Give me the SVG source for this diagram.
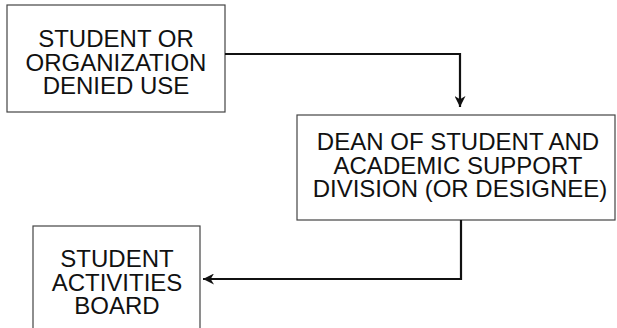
<svg xmlns="http://www.w3.org/2000/svg" width="617" height="328" viewBox="0 0 617 328">
<style>
.box{fill:#fff;stroke:#444;stroke-width:1.2}
.lbl{font-family:"Liberation Sans",Arial,sans-serif;font-size:24px;fill:#111;text-anchor:middle}
.conn{fill:none;stroke:#111;stroke-width:2.2}
</style>
<defs>
<marker id="arr" viewBox="0 0 10 10" refX="10" refY="5" markerWidth="5" markerHeight="5" orient="auto" markerUnits="strokeWidth">
<path d="M0,0 L10,5 L0,10 L3,5 Z" fill="#111"/>
</marker>
</defs>
<rect width="617" height="328" fill="#fff"/>
<g id="node-student-org">
<rect class="box" x="7" y="5" width="218" height="107"/>
<text class="lbl" x="116" y="47">STUDENT OR</text>
<text class="lbl" x="116" y="71">ORGANIZATION</text>
<text class="lbl" x="116" y="94">DENIED USE</text>
</g>
<g id="node-dean">
<rect class="box" x="297" y="115" width="318" height="105"/>
<text class="lbl" x="458" y="150">DEAN OF STUDENT AND</text>
<text class="lbl" x="458" y="174">ACADEMIC SUPPORT</text>
<text class="lbl" x="460" y="197">DIVISION (OR DESIGNEE)</text>
</g>
<g id="node-sab">
<rect class="box" x="33" y="226" width="167" height="110"/>
<text class="lbl" x="117" y="267">STUDENT</text>
<text class="lbl" x="117" y="291">ACTIVITIES</text>
<text class="lbl" x="117" y="314">BOARD</text>
</g>
<g id="connectors">
<path class="conn" d="M225,54 L460,54 L460,107" marker-end="url(#arr)"/>
<path class="conn" d="M461,220 L461,279 L203,279" marker-end="url(#arr)"/>
</g>
</svg>
